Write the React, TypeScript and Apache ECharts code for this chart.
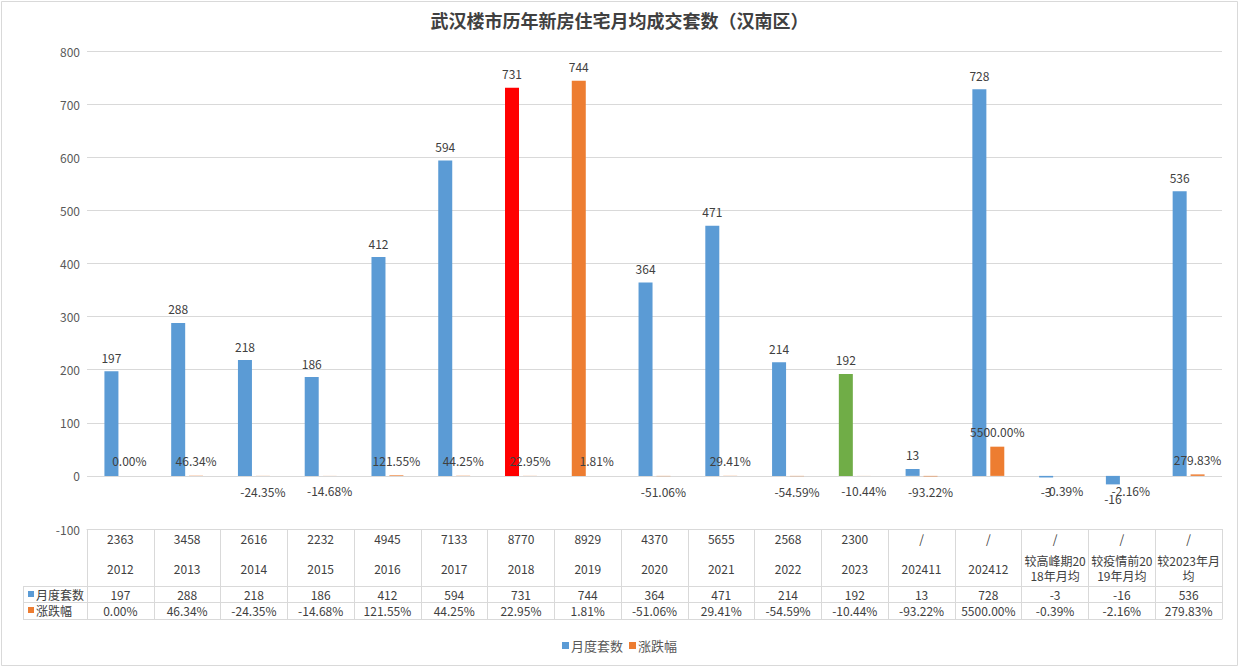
import React, { useEffect, useRef } from "react";
import * as echarts from "echarts";

const title = "武汉楼市历年新房住宅月均成交套数（汉南区）";
const totalSales = ["2363", "3458", "2616", "2232", "4945", "7133", "8770", "8929", "4370", "5655", "2568", "2300", "/", "/", "/", "/", "/"];
const periodNames = [
  "2012", "2013", "2014", "2015", "2016", "2017", "2018", "2019", "2020", "2021", "2022", "2023",
  "202411", "202412", "较高峰期20\n18年月均", "较疫情前20\n19年月均", "较2023年月\n均",
];
const monthlyUnits = [197, 288, 218, 186, 412, 594, 731, 744, 364, 471, 214, 192, 13, 728, -3, -16, 536];
const changePct = [0, 46.34, -24.35, -14.68, 121.55, 44.25, 22.95, 1.81, -51.06, 29.41, -54.59, -10.44, -93.22, 5500, -0.39, -2.16, 279.83];
const yTicks = { min: -100, max: 800, interval: 100 };
const seriesNames = ["月度套数", "涨跌幅"];
const highlight: Record<number, string> = { 6: "#FF0000", 7: "#ED7D31", 11: "#70AD47" };

const BLUE = "#5B9BD5";
const ORANGE = "#ED7D31";
const GRID = "#D9D9D9";
const TXT = "#404040";
const FONT = "'Noto Sans CJK SC', 'Noto Sans', sans-serif";

const fmtPct = (v: number) => v.toFixed(2) + "%";

export default function App() {
  const ref = useRef<HTMLDivElement>(null);
  useEffect(() => {
    document.body.style.margin = "0";
    const chart = echarts.init(ref.current!, null, { renderer: "svg" });
    const cats = periodNames.map((n, i) => totalSales[i] + "||" + n);

    const blueData = monthlyUnits.map((v, i) => ({
      value: v,
      itemStyle: highlight[i] ? { color: highlight[i] } : undefined,
      label: { position: v < 0 ? "bottom" : "top" },
    }));
    const orangeData = changePct.map((v) => ({
      value: v / 100,
      label: { position: v < 0 ? "bottom" : "top" },
    }));

    const rowAxis = (offset: number, data: string[], showLabel: boolean) => ({
      type: "category",
      position: "bottom",
      gridIndex: 0,
      offset,
      data,
      axisLine: { show: true, onZero: false, lineStyle: { color: GRID, width: 1 } },
      axisTick: { show: false },
      axisLabel: {
        show: showLabel,
        interval: 0,
        margin: 0,
        color: TXT,
        fontSize: 12,
        fontFamily: FONT,
        lineHeight: 16,
        verticalAlign: "top",
      },
    });

    chart.setOption({
      animation: false,
      textStyle: { fontFamily: FONT },
      title: {
        text: title,
        left: "center",
        top: 6,
        textStyle: { fontSize: 18, fontWeight: "bold", color: "#404040", fontFamily: FONT },
      },
      legend: {
        bottom: 10,
        left: "center",
        icon: "rect",
        itemWidth: 7,
        itemHeight: 7,
        itemGap: 6,
        textStyle: { color: "#595959", fontSize: 13, fontFamily: FONT, padding: [0, 0, 0, -3] },
        data: [
          { name: seriesNames[0], itemStyle: { color: BLUE } },
          { name: seriesNames[1], itemStyle: { color: ORANGE } },
        ],
      },
      grid: { left: 87, right: 17, top: 51, bottom: 138, containLabel: false },
      yAxis: {
        type: "value",
        min: yTicks.min,
        max: yTicks.max,
        interval: yTicks.interval,
        axisLine: { show: false },
        axisTick: { show: false },
        axisLabel: { color: "#595959", fontSize: 12, margin: 7, fontFamily: FONT },
        splitLine: { lineStyle: { color: GRID, width: 1 } },
      },
      xAxis: [
        {
          type: "category",
          position: "bottom",
          data: cats,
          axisLine: { show: true, onZero: false, lineStyle: { color: GRID, width: 1 } },
          axisTick: { show: true, interval: 0, length: 90, lineStyle: { color: GRID, width: 1 } },
          axisLabel: {
            interval: 0,
            margin: 0,
            verticalAlign: "top",
            color: TXT,
            fontFamily: FONT,
            formatter: (val: string) => {
              const [top, name] = val.split("||");
              const lines = name.split("\n");
              if (lines.length === 1) return `{t|${top}}\n{n|${name}}`;
              return `{t|${top}}\n{s| }\n` + lines.map((l) => `{m|${l}}`).join("\n");
            },
            rich: {
              t: { fontSize: 12, lineHeight: 18, color: TXT, fontFamily: FONT },
              n: { fontSize: 12, lineHeight: 42, color: TXT, fontFamily: FONT },
              s: { fontSize: 4, lineHeight: 6, color: TXT },
              m: { fontSize: 12, lineHeight: 15, color: TXT, fontFamily: FONT },
            },
          },
        },
        rowAxis(57, monthlyUnits.map(String), true),
        rowAxis(73, changePct.map(fmtPct), true),
        rowAxis(90, monthlyUnits.map(() => ""), false),
      ],
      series: [
        {
          name: seriesNames[0],
          type: "bar",
          xAxisIndex: 0,
          barWidth: 14,
          barGap: "28%",
          itemStyle: { color: BLUE },
          label: { show: true, distance: 8, color: TXT, fontSize: 12, fontFamily: FONT },
          data: blueData,
        },
        {
          name: seriesNames[1],
          type: "bar",
          xAxisIndex: 0,
          barWidth: 14,
          itemStyle: { color: ORANGE },
          label: {
            show: true,
            distance: 9,
            color: TXT,
            fontSize: 12,
            fontFamily: FONT,
            formatter: (p: any) => fmtPct(changePct[p.dataIndex]),
          },
          data: orangeData,
        },
      ],
      graphic: [
        {
          type: "rect",
          shape: { x: 1.5, y: 1.5, width: 1236, height: 664 },
          style: { fill: "none", stroke: GRID, lineWidth: 1 },
          silent: true,
        },
        { type: "line", shape: { x1: 23, y1: 586.5, x2: 87, y2: 586.5 }, style: { stroke: GRID, lineWidth: 1 } },
        { type: "line", shape: { x1: 23, y1: 602.5, x2: 87, y2: 602.5 }, style: { stroke: GRID, lineWidth: 1 } },
        { type: "line", shape: { x1: 23, y1: 619.5, x2: 87, y2: 619.5 }, style: { stroke: GRID, lineWidth: 1 } },
        { type: "line", shape: { x1: 23.5, y1: 586, x2: 23.5, y2: 620 }, style: { stroke: GRID, lineWidth: 1 } },
        { type: "rect", shape: { x: 28, y: 591, width: 6, height: 6 }, style: { fill: BLUE } },
        { type: "rect", shape: { x: 28, y: 607, width: 6, height: 6 }, style: { fill: ORANGE } },
        {
          type: "text",
          x: 36,
          y: 594,
          style: { text: seriesNames[0], fontSize: 12, fill: TXT, fontFamily: FONT, verticalAlign: "middle" },
        },
        {
          type: "text",
          x: 36,
          y: 610,
          style: { text: seriesNames[1], fontSize: 12, fill: TXT, fontFamily: FONT, verticalAlign: "middle" },
        },
      ],
    });
    return () => chart.dispose();
  }, []);
  return (
    <div
      ref={ref}
      style={{ position: "absolute", left: 0, top: 0, width: 1239, height: 667, background: "#fff" }}
    />
  );
}
